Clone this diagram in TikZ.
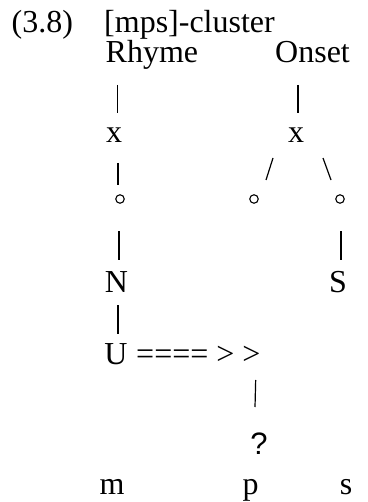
\documentclass[tikz,border=0pt]{standalone}
\usepackage{fontspec}
\setmainfont{Liberation Serif}
\newfontfamily\sansq{Liberation Sans}
\usetikzlibrary{calc}
\begin{document}
\begin{tikzpicture}[x=1pt,y=-1pt,
  lbl/.style={inner sep=0pt, anchor=base, font=\fontsize{32}{38}\selectfont},
  conn/.style={line width=1.2pt},
  ring/.style={circle, draw, line width=1.1pt, inner sep=0pt, minimum size=8.5pt}]
\useasboundingbox (0,0) rectangle (367,502);
% labels
\node[lbl, anchor=base west] (ex) at (11.5,33) {(3.8)};
\node[lbl, anchor=base west] (title) at (104,33) {[mps]-cluster};
\node[lbl, anchor=base west] (rhyme) at (105.5,63) {Rhyme};
\node[lbl, anchor=base west] (onset) at (275,63) {Onset};
\node[lbl] (x1) at (114,143) {x};
\node[lbl] (x2) at (296,143) {x};
\node[ring] (c1) at (120,199) {};
\node[ring] (c2) at (254,199) {};
\node[ring] (c3) at (340,199) {};
\node[lbl] (N) at (116.5,292) {N};
\node[lbl] (S) at (338,292) {S};
\node[lbl] (U) at (116,364) {U};
\node[lbl, anchor=base west] (arr) at (136,364) {==== > >};
\node[lbl, font=\fontsize{31}{37}\sansq] (q) at (259,454) {?};
\node[lbl] (m) at (112,494) {m};
\node[lbl] (p) at (250.5,494) {p};
\node[lbl] (s) at (346,494) {s};
% connectors
\draw[conn] ($(rhyme.base west)+(12,22)$) -- ($(x1.base)+(3.5,-30)$);
\draw[conn] ($(onset.base west)+(23,22)$) -- ($(x2.base)+(2,-30)$);
\draw[conn] ($(x1.base)+(4,20)$) -- ($(c1)+(-2,-14)$);
\draw[conn] ($(x2.base)+(-23,15)$) -- ($(c2)+(12,-19)$);
\draw[conn] ($(x2.base)+(27,15)$) -- ($(c3)+(-9,-19)$);
\draw[conn] ($(c1)+(-1,32)$) -- ($(N.base)+(2.5,-32)$);
\draw[conn] ($(c3)+(1,32)$) -- ($(S.base)+(3,-32)$);
\draw[conn] ($(N.base)+(1.5,13)$) -- ($(U.base)+(2,-30)$);
\draw[conn] ($(arr.base east)+(-5,16)$) -- ($(q.base)+(-4,-47)$);
\end{tikzpicture}
\end{document}
